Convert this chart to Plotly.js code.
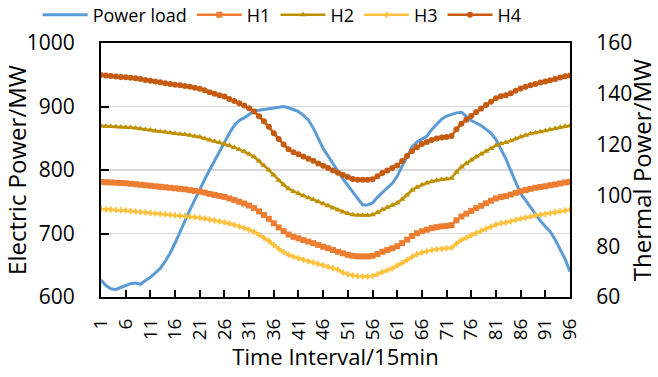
<!DOCTYPE html>
<html>
<head>
<meta charset="utf-8">
<script src="https://cdn.plot.ly/plotly-3.0.1.min.js"></script>
<style>html,body{margin:0;padding:0;background:#fff;}#chart{width:658px;height:377px;}</style>
</head>
<body>
<div id="chart"></div>
<script>
// Time intervals (15 min each)
const intervals = Array.from({length: 96}, (_, k) => k + 1);
const xTickVals = [1,6,11,16,21,26,31,36,41,46,51,56,61,66,71,76,81,86,91,96];
const xTickText = ["1","6","11","16","21","26","31","36","41","46","51","56","61","66","71","76","81","86","91","96"];

// Electric power load (MW, left axis)
const powerLoad = [
627,618,613,612,615,618,621,622,620,626,
631,638,645,656,669,685,703,721,737,753,
770,785,800,815,830,845,858,870,878,882,
887,893,894,895,896,897,899,900,898,895,
892,886,879,866,850,834,822,809,798,786,
776,766,755,745,745,748,757,765,772,779,
790,806,821,836,844,848,853,864,872,880,
885,888,890,891,884,878,874,870,864,858,
848,834,818,799,780,763,752,741,731,720,
711,703,690,676,660,640];

// Thermal power (MW, right axis)
const H1 = [
105.3,105.2,105.1,105.0,104.9,104.8,104.6,104.4,104.2,104.0,
103.8,103.6,103.4,103.2,103.0,102.8,102.6,102.4,102.1,101.8,
101.5,101.1,100.6,100.2,99.8,99.4,98.8,98.2,97.5,96.8,
96.0,95.0,93.7,92.3,90.8,89.0,87.4,85.9,84.6,83.7,
83.1,82.4,81.8,81.2,80.5,79.8,79.2,78.5,77.8,77.2,
76.6,76.2,76.0,76.0,76.0,76.2,76.9,77.8,78.5,79.2,
80.0,81.2,82.6,84.0,85.1,85.9,86.5,87.1,87.5,87.8,
88.0,88.3,90.2,91.7,92.8,93.9,95.0,95.9,96.9,97.9,
98.8,99.4,99.7,100.3,101.0,101.6,102.1,102.6,103.0,103.3,
103.6,104.0,104.3,104.7,105.1,105.3];

const H2 = [
127.3,127.2,127.1,127.0,126.9,126.8,126.7,126.5,126.2,125.9,
125.7,125.4,125.2,125.0,124.7,124.4,124.2,124.0,123.7,123.3,
123.0,122.4,121.8,121.3,120.8,120.3,119.6,118.9,118.1,117.3,
116.3,115.2,113.5,111.8,110.0,108.0,106.0,104.2,102.6,101.5,
100.7,99.9,99.1,98.4,97.5,96.7,95.9,95.0,94.3,93.5,
92.9,92.4,92.2,92.2,92.2,92.4,93.3,94.4,95.3,96.1,
97.0,98.5,100.2,102.0,103.2,104.2,104.9,105.5,106.0,106.3,
106.5,106.8,109.2,111.2,112.6,113.9,115.2,116.3,117.4,118.5,
119.6,120.3,120.8,121.5,122.3,123.1,123.7,124.3,124.7,125.1,
125.5,125.9,126.3,126.8,127.2,127.4];

const H3 = [
94.6,94.5,94.4,94.3,94.2,94.1,93.9,93.7,93.5,93.3,
93.1,92.9,92.8,92.6,92.4,92.2,92.0,91.9,91.7,91.5,
91.2,90.9,90.5,90.1,89.8,89.4,88.9,88.4,87.8,87.2,
86.5,85.7,84.5,83.3,82.0,80.5,79.0,77.7,76.6,75.8,
75.3,74.7,74.1,73.6,73.0,72.5,71.9,71.3,70.7,69.6,
69.0,68.5,68.2,68.1,68.1,68.3,69.0,69.8,70.5,71.2,
72.4,73.4,74.6,75.8,76.8,77.5,78.0,78.5,78.8,79.0,
79.2,79.4,81.1,82.4,83.3,84.3,85.2,86.0,86.9,87.7,
88.5,89.0,89.3,89.8,90.4,90.9,91.3,91.7,92.1,92.4,
92.7,93.0,93.4,93.8,94.1,94.4];

const H4 = [
147.4,147.2,147.0,146.8,146.6,146.5,146.3,146.1,145.8,145.4,
145.1,144.8,144.5,144.2,143.9,143.6,143.4,143.1,142.8,142.4,
142.0,141.4,140.6,140.0,139.4,138.9,138.0,137.2,136.3,135.4,
134.3,133.0,131.2,129.2,127.0,124.5,122.2,120.0,118.2,117.0,
116.2,115.3,114.4,113.6,112.6,111.7,110.8,109.8,108.9,108.0,
107.2,106.5,106.2,106.2,106.2,106.4,107.5,108.8,109.8,110.8,
111.8,113.5,115.5,117.5,119.0,120.2,121.0,121.8,122.4,122.8,
123.0,123.4,126.0,128.2,129.8,131.3,132.8,134.2,135.6,136.9,
138.2,139.0,139.4,140.2,141.2,142.1,142.8,143.4,143.9,144.4,
144.8,145.3,145.8,146.4,146.9,147.2];

const seriesNames = ["Power load", "H1", "H2", "H3", "H4"];
const FONT = "Open Sans, Noto Sans, sans-serif";

const traces = [
  {x: intervals, y: powerLoad, name: seriesNames[0], type: "scatter", mode: "lines",
   line: {color: "#5B9BD5", width: 3}, yaxis: "y"},
  {x: intervals, y: H1, name: seriesNames[1], type: "scatter", mode: "lines+markers",
   line: {color: "#ED7D31", width: 2.5}, marker: {symbol: "square", size: 6, color: "#ED7D31"}, yaxis: "y2"},
  {x: intervals, y: H2, name: seriesNames[2], type: "scatter", mode: "lines+markers",
   line: {color: "#BF9000", width: 2.5}, marker: {symbol: "triangle-up", size: 6, color: "#BF9000"}, yaxis: "y2"},
  {x: intervals, y: H3, name: seriesNames[3], type: "scatter", mode: "lines+markers",
   line: {color: "#FFC03C", width: 2.5}, marker: {symbol: "cross", size: 5, color: "#FFC03C"}, yaxis: "y2"},
  {x: intervals, y: H4, name: seriesNames[4], type: "scatter", mode: "lines+markers",
   line: {color: "#C55A11", width: 2.5}, marker: {symbol: "circle", size: 6, color: "#C55A11"}, yaxis: "y2"}
];

const layout = {
  width: 658, height: 377,
  margin: {l: 101, r: 88, t: 43, b: 80, pad: 0, autoexpand: false},
  paper_bgcolor: "#fff", plot_bgcolor: "#fff",
  font: {family: FONT, color: "#000"},
  showlegend: true,
  legend: {orientation: "h", x: -0.135, xanchor: "left", y: 1.11, yanchor: "middle",
           font: {family: FONT, size: 18, color: "#000"}, itemwidth: 45,
           bgcolor: "rgba(0,0,0,0)", traceorder: "normal"},
  xaxis: {
    range: [1, 96], tickmode: "array", tickvals: xTickVals, ticktext: xTickText,
    tickangle: -90, tickfont: {family: FONT, size: 19, color: "#000"},
    ticks: "inside", ticklen: 7, tickwidth: 2, tickcolor: "#000",
    showline: true, linecolor: "#000", linewidth: 2, mirror: true,
    showgrid: false, zeroline: false, ticklabelstandoff: 12, automargin: false,
    title: {text: "Time Interval/15min", font: {family: FONT, size: 22, color: "#000"}, standoff: 10}
  },
  yaxis: {
    range: [600, 1000], tickvals: [600, 700, 800, 900, 1000],
    tickfont: {family: FONT, size: 21, color: "#000"},
    ticks: "inside", ticklen: 8, tickwidth: 2, tickcolor: "#000",
    showline: true, linecolor: "#000", linewidth: 2,
    showgrid: true, gridcolor: "#D9D9D9", gridwidth: 1.5, zeroline: false,
    ticklabelstandoff: 20, automargin: false,
    title: {text: "Electric Power/MW", font: {family: FONT, size: 24, color: "#000"}, standoff: 2}
  },
  yaxis2: {
    overlaying: "y", side: "right", range: [60, 160], tickvals: [60, 80, 100, 120, 140, 160],
    tickfont: {family: FONT, size: 21, color: "#000"},
    ticks: "", showline: true, linecolor: "#000", linewidth: 2,
    showgrid: false, zeroline: false, ticklabelstandoff: 20, automargin: false,
    title: {text: "Thermal Power/MW", font: {family: FONT, size: 24, color: "#000"}, standoff: 16}
  }
};

Plotly.newPlot("chart", traces, layout, {displayModeBar: false, staticPlot: true});
</script>
</body>
</html>
